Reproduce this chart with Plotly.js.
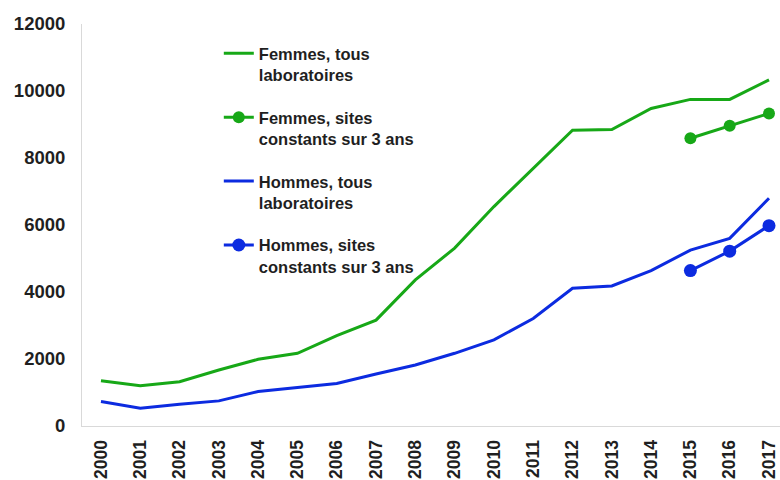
<!DOCTYPE html>
<html>
<head>
<meta charset="utf-8">
<script src="https://cdn.plot.ly/plotly-3.0.1.min.js"></script>
<style>html,body{margin:0;padding:0;background:#fff;}#chart{width:780px;height:480px;}</style>
</head>
<body>
<div id="chart"></div>
<script>
const years = [2000,2001,2002,2003,2004,2005,2006,2007,2008,2009,2010,2011,2012,2013,2014,2015,2016,2017];
const femmesTous = [1350,1200,1320,1670,1990,2170,2700,3160,4360,5310,6550,7700,8830,8850,9480,9750,9750,10330];
const hommesTous = [730,530,650,750,1030,1160,1270,1550,1820,2170,2570,3210,4110,4180,4640,5250,5600,6800];
const sitesYears = [2015,2016,2017];
const femmesSites = [8590,8960,9330];
const hommesSites = [4640,5220,5980];
const yTicks = [0,2000,4000,6000,8000,10000,12000];

const green = '#17a817';
const blue = '#0c2be0';
const idx = years.map((_, i) => i);
const sIdx = sitesYears.map(y => years.indexOf(y));

const traces = [
  {x: idx, y: femmesTous, mode: 'lines', name: 'Femmes, tous<br>laboratoires', line: {color: green, width: 3}, legendgroup: 'a'},
  {x: sIdx, y: femmesSites, mode: 'lines+markers', name: 'Femmes, sites<br>constants sur 3 ans', line: {color: green, width: 3}, marker: {color: green, size: 12}, legendgroup: 'b'},
  {x: idx, y: hommesTous, mode: 'lines', name: 'Hommes, tous<br>laboratoires', line: {color: blue, width: 3}, legendgroup: 'c'},
  {x: sIdx, y: hommesSites, mode: 'lines+markers', name: 'Hommes, sites<br>constants sur 3 ans', line: {color: blue, width: 3}, marker: {color: blue, size: 13}, legendgroup: 'd'}
];

const layout = {
  width: 780, height: 480,
  margin: {l: 82, r: 0, t: 24, b: 54},
  paper_bgcolor: '#fff', plot_bgcolor: '#fff',
  font: {family: 'Liberation Sans, Arial, sans-serif', color: '#1f1f1f'},
  showlegend: true,
  legend: {x: 0.196, y: 0.97, xanchor: 'left', yanchor: 'top', valign: 'top', tracegroupgap: 18,
           font: {size: 16.5, weight: 'bold', color: '#1f1f1f'}, bgcolor: 'rgba(0,0,0,0)'},
  xaxis: {
    range: [-0.483, 17.28], tickmode: 'array', tickvals: idx, ticktext: years.map(String),
    tickangle: -90, showgrid: false, zeroline: false, showline: true, linecolor: '#d9d9d9', linewidth: 1,
    ticks: '', ticklabelstandoff: 6, tickfont: {size: 17.5, weight: 'bold', color: '#1f1f1f'}
  },
  yaxis: {
    range: [0, 12000], tickmode: 'array', tickvals: yTicks, ticktext: yTicks.map(String),
    showgrid: false, zeroline: false, showline: true, linecolor: '#d9d9d9', linewidth: 1,
    ticks: '', ticklabelstandoff: 12, tickfont: {size: 18.5, weight: 'bold', color: '#1f1f1f'}
  }
};

Plotly.newPlot('chart', traces, layout, {displayModeBar: false, staticPlot: true});
</script>
</body>
</html>
